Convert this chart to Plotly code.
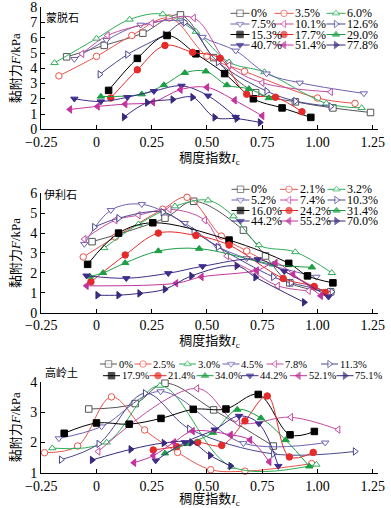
import plotly.graph_objects as go

# ---------------- data ----------------
# x: consistency index Ic, y: adhesion force F (kPa)

MMT_LABELS = ["0%", "3.5%", "6.0%", "7.5%", "10.1%", "12.6%",
              "15.3%", "17.7%", "29.0%", "40.7%", "51.4%", "77.8%"]
MMT_IC = [
    [-0.135, 0.035, 0.21, 0.38, 0.53, 0.72, 0.90, 1.07, 1.24],
    [-0.17, 0.0, 0.16, 0.33, 0.50, 0.67, 1.0, 1.17],
    [-0.19, 0.0, 0.15, 0.30, 0.45, 0.60, 0.76, 1.04, 1.20],
    [-0.10, 0.045, 0.20, 0.39, 0.48, 0.63, 0.77, 0.92, 1.21],
    [-0.065, 0.05, 0.25, 0.44, 0.60, 0.75, 1.06],
    [0.015, 0.14, 0.31, 0.40, 0.55, 0.77, 0.90, 1.06],
    [0.055, 0.185, 0.32, 0.45, 0.58, 0.71, 0.84, 0.97],
    [0.065, 0.185, 0.31, 0.435, 0.56, 0.68, 0.81, 0.93],
    [0.02, 0.205, 0.305, 0.40, 0.495, 0.59, 0.69, 0.78],
    [-0.10, 0.02, 0.14, 0.26, 0.385, 0.505, 0.63],
    [-0.12, 0.005, 0.13, 0.255, 0.38, 0.50, 0.625, 0.75],
    [0.125, 0.23, 0.345, 0.435, 0.535, 0.635, 0.74],
]
MMT_F = [
    [4.75, 5.5, 6.3, 7.5, 4.7, 2.4, 1.8, 1.4, 1.1],
    [3.5, 4.78, 6.15, 7.3, 4.8, 3.8, 2.05, 1.7],
    [4.35, 5.95, 7.2, 7.55, 6.4, 4.4, 3.75, 1.7, 1.4],
    [4.6, 5.85, 6.85, 7.05, 6.05, 5.15, 3.65, 3.05, 2.35],
    [4.95, 6.15, 6.95, 7.3, 4.2, 3.05, 2.45],
    [3.6, 4.9, 6.2, 7.0, 4.4, 2.5, 1.85, 1.5],
    [2.55, 4.65, 6.15, 4.95, 3.65, 2.0, 1.4, 0.78],
    [2.05, 3.9, 5.5, 5.05, 4.65, 2.3, 2.1, 1.15],
    [2.15, 2.3, 2.9, 3.7, 3.8, 2.9, 2.65, 2.05],
    [2.0, 1.82, 2.1, 2.5, 2.85, 2.2, 0.8],
    [1.3, 1.5, 1.65, 1.78, 2.6, 2.75, 1.9, 0.88],
    [0.8, 1.75, 1.95, 2.1, 0.78, 0.7, 0.45],
]

ILL_LABELS = ["0%", "2.1%", "3.2%", "5.2%", "7.4%", "10.3%",
              "16.0%", "24.2%", "31.4%", "44.2%", "55.2%", "70.0%"]
ILL_IC = [
    [-0.02, 0.31, 0.44, 0.665, 0.765, 0.875, 1.06],
    [-0.06, 0.085, 0.30, 0.41, 0.565, 0.68, 0.985],
    [0.035, 0.19, 0.355, 0.505, 0.62, 0.735, 0.90, 1.065],
    [-0.055, 0.065, 0.205, 0.40, 0.545, 0.68, 0.995],
    [-0.055, 0.085, 0.19, 0.33, 0.49, 0.59, 0.71, 0.82, 0.96],
    [-0.01, 0.10, 0.30, 0.44, 0.55, 0.80, 0.88, 1.065],
    [-0.04, 0.10, 0.255, 0.60, 0.87, 0.955, 1.07],
    [-0.025, 0.13, 0.28, 0.45, 0.60, 0.845, 0.985, 1.035],
    [-0.03, 0.03, 0.13, 0.28, 0.465, 0.80, 0.975],
    [-0.045, 0.135, 0.325, 0.48, 0.73, 0.85, 1.05],
    [-0.045, 0.36, 0.475, 0.725, 0.81, 0.89, 1.015],
    [0.005, 0.10, 0.195, 0.31, 0.43, 0.635, 0.72, 0.94],
]
ILL_F = [
    [3.57, 4.75, 5.6, 4.15, 2.85, 1.5, 1.05],
    [2.8, 3.8, 5.2, 5.8, 3.85, 3.1, 1.3],
    [3.25, 4.45, 5.35, 5.65, 4.85, 3.4, 3.05, 2.0],
    [3.45, 5.15, 5.45, 4.5, 3.35, 2.73, 1.8],
    [3.7, 4.65, 4.9, 5.2, 4.65, 2.85, 2.05, 1.35, 1.1],
    [4.3, 4.75, 5.05, 4.1, 3.3, 1.8, 1.5, 1.05],
    [2.43, 4.0, 4.52, 3.65, 2.48, 1.85, 1.5],
    [1.55, 2.9, 4.0, 3.88, 3.4, 1.72, 1.32, 1.02],
    [1.82, 2.0, 2.5, 3.1, 3.22, 2.43, 2.28],
    [1.86, 1.73, 1.98, 2.33, 2.68, 2.08, 0.8],
    [1.35, 1.48, 1.8, 2.12, 2.5, 1.93, 0.85],
    [0.88, 0.88, 0.97, 1.18, 1.85, 2.35, 1.78, 0.52],
]

KAO_LABELS = ["0%", "2.5%", "3.0%", "4.5%", "7.8%", "11.3%",
              "17.9%", "21.4%", "34.0%", "44.2%", "52.1%", "75.1%"]
KAO_IC = [
    [-0.035, 0.175, 0.31, 0.53, 0.80],
    [-0.235, -0.085, 0.068, 0.218, 0.367, 0.517, 0.672, 0.974],
    [-0.2, 0.046, 0.287, 0.61, 0.995],
    [-0.17, 0.023, 0.29, 0.665, 1.035],
    [0.008, 0.455, 0.64, 0.88, 1.094],
    [-0.16, 0.01, 0.22, 0.42, 0.80, 1.17],
    [-0.146, 0.0, 0.148, 0.292, 0.438, 0.586, 0.732, 0.876, 0.986],
    [0.257, 0.363, 0.458, 0.567, 0.672, 0.773, 0.873, 0.981],
    [0.31, 0.41, 0.527, 0.637, 0.744, 0.856, 0.963],
    [0.268, 0.40, 0.535, 0.645, 0.735, 0.823],
    [0.17, 0.257, 0.35, 0.435, 0.607, 0.695, 0.782],
    [-0.02, 0.155, 0.305, 0.43, 0.515, 0.607],
]
KAO_F = [
    [3.1, 3.28, 3.95, 3.07, 1.88],
    [1.66, 1.88, 3.5, 2.41, 1.67, 1.1, 1.05, 1.3],
    [1.81, 2.0, 3.87, 1.2, 1.27],
    [2.13, 2.52, 3.68, 1.97, 1.99],
    [1.7, 3.78, 2.65, 2.83, 2.42],
    [1.43, 1.95, 3.62, 2.45, 1.62, 1.7],
    [2.3, 2.64, 2.6, 2.79, 3.09, 3.1, 3.58, 2.25, 2.36],
    [1.75, 1.86, 2.0, 1.9, 2.71, 3.53, 1.52, 1.67],
    [1.64, 1.95, 2.32, 3.08, 2.8, 2.08, 1.21],
    [1.4, 2.0, 2.42, 2.87, 2.62, 1.22],
    [1.33, 1.56, 2.0, 2.37, 2.25, 2.08, 1.36],
    [1.42, 1.77, 1.98, 2.0, 1.57, 1.22],
]

CLAY_NAMES = ["蒙脱石", "伊利石", "高岭土"]
X_TICKVALS = [-0.25, 0, 0.25, 0.5, 0.75, 1.0, 1.25]
X_TICKTEXT = ["\u22120.25", "0", "0.25", "0.50", "0.75", "1.00", "1.25"]
Y_RANGES = [[0, 8], [0, 6], [1, 4]]

# ---------------- styles ----------------
COLORS = ["#555555", "#e8554c", "#2fae5a", "#6e62b0", "#c24da1", "#4b4890",
          "#000000", "#e52a2a", "#1c9e45", "#3f2d8c", "#c2339d", "#38297c"]
SYMBOLS = ["square", "circle", "triangle-up", "triangle-down",
           "triangle-left", "triangle-right"] * 2
OPEN = [True] * 6 + [False] * 6

W, H = 391, 508
ML, MR, MT, MB = 41, 13, 7, 35
X_RANGE = [-0.251, 1.274]
Y_DOMAINS = [[0.7376, 0.9994], [0.3440, 0.6002], [0.0006, 0.1959]]

SERIF = "Liberation Serif, Noto Sans CJK SC, serif"
CJK = "Noto Sans CJK SC, sans-serif"

fig = go.Figure()

charts = [(MMT_LABELS, MMT_IC, MMT_F), (ILL_LABELS, ILL_IC, ILL_F),
          (KAO_LABELS, KAO_IC, KAO_F)]


def marker_style(i, size=6.5):
    return dict(symbol=SYMBOLS[i], size=size,
                color="white" if OPEN[i] else COLORS[i],
                line=dict(color=COLORS[i], width=1))


for k, (labels, ics, fs) in enumerate(charts):
    sfx = "" if k == 0 else str(k + 1)
    for i in range(len(labels)):
        fig.add_trace(go.Scatter(
            x=ics[i], y=fs[i], name=labels[i], mode="lines+markers",
            line=dict(color=COLORS[i], width=1, shape="spline", smoothing=1.0),
            marker=marker_style(i),
            xaxis="x" + sfx, yaxis="y" + sfx, showlegend=False,
            cliponaxis=False))

# ---------------- custom compact legends (pixel overlay axes) ----------------
LEG_FONT = [12, 12, 10.5]
LEG_HALF = [9.5, 9.0, 8.5]
# rows of (symbol-centre x, y) in pixels for each chart's legend
LEG_POS = [
    [(cx, cy) for cy in (13.3, 24.0, 34.5, 45.0) for cx in (240.0, 284.0, 336.0)],
    [(cx, cy) for cy in (189.3, 200.0, 210.5, 221.0) for cx in (240.5, 289.0, 336.5)],
    [(cx, 364.0) for cx in (108.5, 143.0, 187.5, 231.0, 275.0, 329.5)] +
    [(cx, 375.7) for cx in (111.5, 158.0, 205.0, 250.0, 298.5, 345.0)],
]
annotations = []
for k, (labels, _, _) in enumerate(charts):
    hl = LEG_HALF[k]
    for i, lab in enumerate(labels):
        cx, cy = LEG_POS[k][i]
        fig.add_trace(go.Scatter(
            x=[cx - hl, cx, cx + hl], y=[cy, cy, cy], mode="lines+markers",
            line=dict(color=COLORS[i], width=1),
            marker=dict(symbol=SYMBOLS[i], size=[0, 6.5, 0],
                        color="white" if OPEN[i] else COLORS[i],
                        line=dict(color=COLORS[i], width=[0, 1, 0])),
            xaxis="x4", yaxis="y4", showlegend=False, hoverinfo="skip"))
        annotations.append(dict(
            x=cx + hl + 0.5, y=cy, xref="x4", yref="y4", text=lab,
            showarrow=False, xanchor="left", yanchor="middle", borderpad=0,
            font=dict(family=SERIF, size=LEG_FONT[k], color="black")))

# clay labels
for name, (lx, ly) in zip(CLAY_NAMES, [(62, 16.7), (60, 194.3), (61, 371.7)]):
    annotations.append(dict(x=lx, y=ly, xref="x4", yref="y4", text=name,
                            showarrow=False, xanchor="center", yanchor="middle",
                            font=dict(family=CJK, size=11, color="black")))

axis_common = dict(showline=True, linecolor="black", linewidth=1,
                   ticks="inside", ticklen=4, tickwidth=1, tickcolor="black",
                   showgrid=False, zeroline=False, automargin=False,
                   tickfont=dict(family=SERIF, size=14, color="black"))

layout = dict(width=W, height=H, margin=dict(l=ML, r=MR, t=MT, b=MB, autoexpand=False),
              paper_bgcolor="white", plot_bgcolor="rgba(0,0,0,0)",
              showlegend=False, annotations=annotations)

for k in range(3):
    sfx = "" if k == 0 else str(k + 1)
    layout["xaxis" + sfx] = dict(
        axis_common, domain=[0, 1], anchor="y" + sfx, range=X_RANGE,
        tickvals=X_TICKVALS, ticktext=X_TICKTEXT,
        title=dict(text="稠度指数<i>I</i><sub>c</sub>", standoff=1,
                   font=dict(family=SERIF, size=13, color="black")))
    layout["yaxis" + sfx] = dict(
        axis_common, domain=Y_DOMAINS[k], anchor="x" + sfx, range=Y_RANGES[k],
        dtick=1,
        title=dict(text="黏附力<i>F</i>/kPa", standoff=6,
                   font=dict(family=SERIF, size=13, color="black")))

layout["xaxis4"] = dict(domain=[0, 1], range=[ML, W - MR], visible=False,
                        anchor="y4", fixedrange=True)
layout["yaxis4"] = dict(domain=[0, 1], range=[H - MB, MT], visible=False,
                        anchor="x4", fixedrange=True)

fig.update_layout(**layout)
fig.write_html(
    "out.html",
    config={"displayModeBar": False, "staticPlot": True},
    post_script="document.body.style.margin='0';document.body.style.padding='0';"
                "document.body.style.overflow='hidden';")
